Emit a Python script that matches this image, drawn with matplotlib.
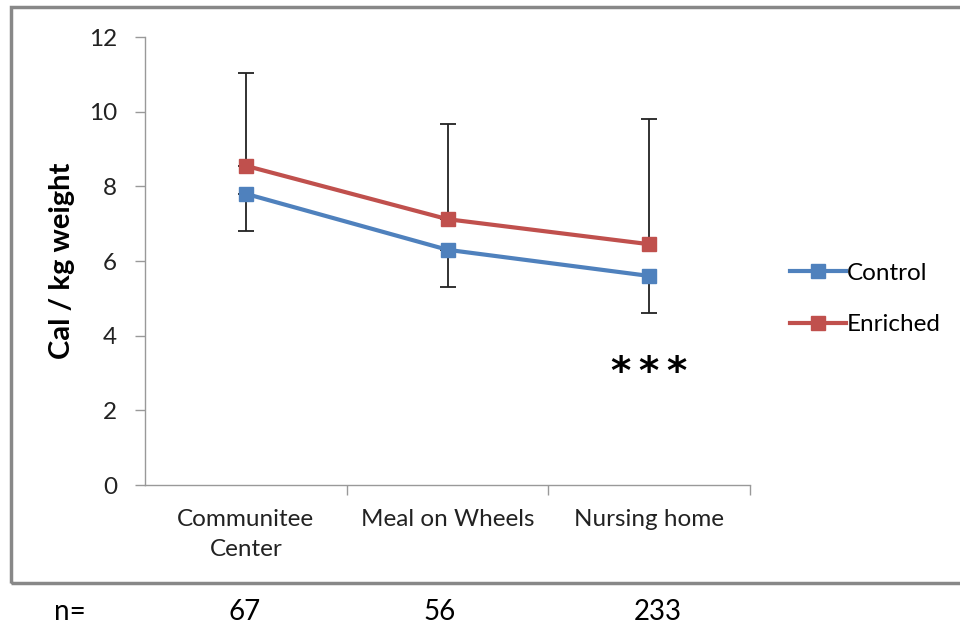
import matplotlib
matplotlib.use('Agg')
from matplotlib import pyplot as plt
from matplotlib.patches import Rectangle

# 数据
categories = ['Communitee\nCenter', 'Meal on Wheels', 'Nursing home']
control = [7.8, 6.3, 5.6]
enriched = [8.55, 7.12, 6.45]
control_err_low = [1.0, 1.0, 1.0]
enriched_err_high = [2.48, 2.54, 3.35]
n_values = ['67', '56', '233']

plt.rcParams['font.family'] = ['Lato', 'DejaVu Sans']

fig = plt.figure(figsize=(9.6, 6.3), dpi=100)
ax = fig.add_axes([145 / 960, 1 - 485 / 630, 605 / 960, 448 / 630])

x = list(range(len(categories)))
blue = '#4F81BD'
red = '#C0504D'

# 误差线: control 只有下方, enriched 只有上方
ax.errorbar(x, control, yerr=[control_err_low, [0] * 3], fmt='none',
            ecolor='#222222', elinewidth=1.3, capsize=6, capthick=1.3, zorder=2)
ax.errorbar(x, enriched, yerr=[[0] * 3, enriched_err_high], fmt='none',
            ecolor='#222222', elinewidth=1.3, capsize=6, capthick=1.3, zorder=2)

ax.plot(x, control, color=blue, lw=3, marker='s', ms=10, label='Control', zorder=3)
ax.plot(x, enriched, color=red, lw=3, marker='s', ms=10, label='Enriched', zorder=3)

ax.set_xlim(-0.5, 2.5)
ax.set_ylim(0, 12)
ax.set_yticks(range(0, 13, 2))
ax.set_xticks(x)
ax.set_xticklabels(categories, fontsize=17.5, color='#222222', linespacing=1.55)
ax.set_xticks([0.5, 1.5, 2.5], minor=True)
ax.tick_params(axis='x', which='major', length=0, pad=17)
ax.tick_params(axis='x', which='minor', length=7, color='#999999', width=1)
ax.tick_params(axis='y', length=7, color='#999999', width=1, labelsize=17.5,
               labelcolor='#222222', pad=13)

for s in ['top', 'right']:
    ax.spines[s].set_visible(False)
for s in ['left', 'bottom']:
    ax.spines[s].set_color('#999999')
    ax.spines[s].set_linewidth(1)

ax.set_ylabel('Cal / kg weight', fontsize=21, fontweight='bold', labelpad=10)

ax.text(2, 3.0, '*\u2009*\u2009*', fontsize=28, ha='center', va='center', color='black',
        family='DejaVu Sans', fontweight='bold')

leg = ax.legend(loc='center left', bbox_to_anchor=(1.03, 0.415), frameon=False,
                fontsize=17.5, handlelength=2.3, handletextpad=0.05, labelspacing=1.25)

# 图表边框
fig.patches.append(Rectangle((11 / 960, 1 - 583 / 630), 960, 576 / 630,
                             transform=fig.transFigure, fill=False,
                             edgecolor='#888888', lw=2.5))

# 样本数
fig.text(70 / 960, 1 - 612 / 630, 'n=', fontsize=20, ha='center', va='center')
for xp, n in zip([245, 440, 658], n_values):
    fig.text(xp / 960, 1 - 612 / 630, n, fontsize=20, ha='center', va='center')

fig.savefig('out.png', dpi=100)
